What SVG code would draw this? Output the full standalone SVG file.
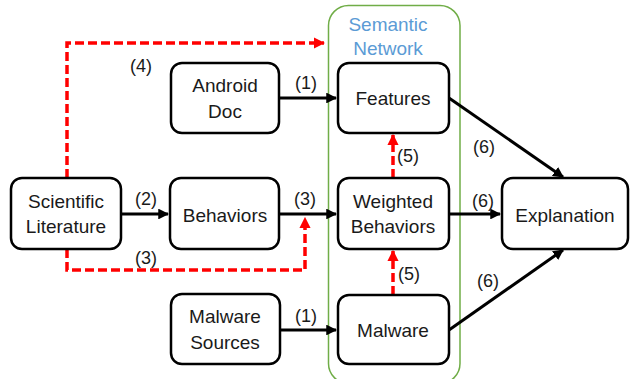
<svg xmlns="http://www.w3.org/2000/svg" width="639" height="379" viewBox="0 0 639 379">
<defs>
<marker id="ab" viewBox="0 0 10 10" refX="9" refY="5" markerWidth="3.6" markerHeight="3.6" markerUnits="strokeWidth" orient="auto"><path d="M0,0 L10,5 L0,10 z" fill="#000"/></marker>
<marker id="ar" viewBox="0 0 10 10" refX="9" refY="5" markerWidth="3.2" markerHeight="3.2" markerUnits="strokeWidth" orient="auto"><path d="M0,0 L10,5 L0,10 z" fill="#FF0000"/></marker>
<style>
.box{fill:#fff;stroke:#000;stroke-width:2.5}
.t{font-family:"Liberation Sans",Arial,sans-serif;font-size:19px;fill:#1a1a1a;text-anchor:middle}
.l{font-family:"Liberation Sans",Arial,sans-serif;font-size:18px;fill:#1a1a1a;text-anchor:middle}
.k{fill:none;stroke:#000;stroke-width:3;marker-end:url(#ab)}
.r{fill:none;stroke:#FF0000;stroke-width:3.5;stroke-dasharray:9 4;marker-end:url(#ar)}
</style>
</defs>
<g id="semantic-network">
<rect x="328.5" y="5.5" width="131.5" height="378" rx="20" fill="none" stroke="#70AD47" stroke-width="1.5"/>
<text class="t" x="388" y="31" style="fill:#5B9BD5">Semantic</text>
<text class="t" x="388" y="55" style="fill:#5B9BD5">Network</text>
</g>
<g id="connectors">
<path class="r" d="M67,178 V43 H324"/>
<path class="r" d="M67,249 V270 H305 V218"/>
<path class="r" d="M393,178 V135"/>
<path class="r" d="M393,295 V251"/>
<path class="k" d="M279,98 H336"/>
<path class="k" d="M121,214 H168"/>
<path class="k" d="M279,214 H336"/>
<path class="k" d="M280,330 H336"/>
<path class="k" d="M449,214 H500"/>
<path class="k" d="M449,98 L563,177"/>
<path class="k" d="M449,330 L563,250"/>
<text class="l" x="141" y="72">(4)</text>
<text class="l" x="306" y="89">(1)</text>
<text class="l" x="146" y="205">(2)</text>
<text class="l" x="305" y="205">(3)</text>
<text class="l" x="146" y="264">(3)</text>
<text class="l" x="306" y="322">(1)</text>
<text class="l" x="408" y="162">(5)</text>
<text class="l" x="409" y="280">(5)</text>
<text class="l" x="484" y="153">(6)</text>
<text class="l" x="483" y="207">(6)</text>
<text class="l" x="488" y="287">(6)</text>
</g>
<g id="android-doc"><rect class="box" x="171" y="63" width="108" height="70" rx="11"/><text class="t" x="225" y="92">Android</text><text class="t" x="225" y="118">Doc</text></g>
<g id="scientific-literature"><rect class="box" x="11" y="178" width="110" height="71" rx="11"/><text class="t" x="66" y="208">Scientific</text><text class="t" x="66" y="233">Literature</text></g>
<g id="behaviors"><rect class="box" x="170" y="178" width="109" height="71" rx="11"/><text class="t" x="225" y="222">Behaviors</text></g>
<g id="malware-sources"><rect class="box" x="171" y="294" width="109" height="70" rx="11"/><text class="t" x="225" y="323">Malware</text><text class="t" x="225" y="349">Sources</text></g>
<g id="features"><rect class="box" x="338" y="63" width="111" height="70" rx="11"/><text class="t" x="393" y="105">Features</text></g>
<g id="weighted-behaviors"><rect class="box" x="338" y="178" width="111" height="71" rx="11"/><text class="t" x="393" y="208">Weighted</text><text class="t" x="393" y="233">Behaviors</text></g>
<g id="malware"><rect class="box" x="338" y="295" width="111" height="69" rx="11"/><text class="t" x="393" y="337">Malware</text></g>
<g id="explanation"><rect class="box" x="502" y="178" width="126" height="71" rx="11"/><text class="t" x="565" y="222">Explanation</text></g>
</svg>
